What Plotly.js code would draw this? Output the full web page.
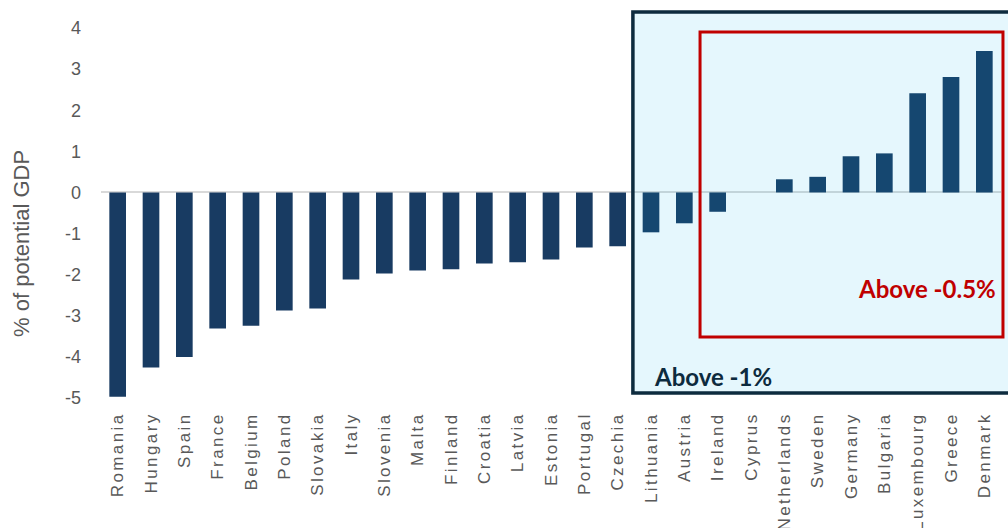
<!DOCTYPE html>
<html>
<head>
<meta charset="utf-8">
<script src="https://cdn.plot.ly/plotly-3.0.1.min.js"></script>
<style>
html,body{margin:0;padding:0;background:#fff;}
#chart{width:1008px;height:528px;}
#chart .xtick text{letter-spacing:2.4px;}
</style>
</head>
<body>
<div id="chart"></div>
<script>
const countries = ["Romania","Hungary","Spain","France","Belgium","Poland","Slovakia","Italy","Slovenia","Malta","Finland","Croatia","Latvia","Estonia","Portugal","Czechia","Lithuania","Austria","Ireland","Cyprus","Netherlands","Sweden","Germany","Bulgaria","Luxembourg","Greece","Denmark"];
const balance = [-4.97,-4.26,-4.0,-3.31,-3.24,-2.87,-2.82,-2.12,-1.97,-1.9,-1.87,-1.73,-1.7,-1.63,-1.34,-1.31,-0.97,-0.75,-0.47,0.0,0.32,0.38,0.88,0.95,2.41,2.81,3.44];
const yTicks = [4,3,2,1,0,-1,-2,-3,-4,-5];
const yTitle = "% of potential GDP";
const labelWide = "Above -1%";
const labelNarrow = "Above -0.5%";

const trace = {
  type: "bar",
  x: countries,
  y: balance,
  marker: {color: "#183B62"},
  width: 0.5,
  hoverinfo: "x+y"
};

const layout = {
  width: 1008, height: 528,
  margin: {l: 101, r: 7, t: 28, b: 130},
  paper_bgcolor: "#ffffff",
  plot_bgcolor: "rgba(0,0,0,0)",
  showlegend: false,
  font: {family: "Liberation Sans, Arial, sans-serif", color: "#595959"},
  xaxis: {
    type: "category",
    tickangle: -90,
    tickfont: {size: 17, color: "#595959"},
    showgrid: false, showline: false, zeroline: false,
    ticks: "", ticklabelstandoff: 10,
    fixedrange: true
  },
  yaxis: {
    range: [-5, 4],
    tickvals: yTicks,
    ticktext: yTicks.map(String),
    tickfont: {size: 18, color: "#595959"},
    showgrid: false, showline: false,
    zeroline: true, zerolinecolor: "#D9D9D9", zerolinewidth: 2,
    ticks: "", ticklabelstandoff: 19,
    fixedrange: true
  },
  shapes: [
    {type: "rect", xref: "paper", yref: "paper", x0: 0.591, x1: 1.02, y0: 0.0135, y1: 1.043,
     fillcolor: "rgba(0,176,240,0.1)", line: {width: 0}, layer: "above"},
    {type: "rect", xref: "paper", yref: "paper", x0: 0.591, x1: 1.012, y0: 0.0135, y1: 1.043,
     fillcolor: "rgba(0,0,0,0)", line: {color: "#0D2B3E", width: 3.5}, layer: "above"},
    {type: "rect", xref: "paper", yref: "paper", x0: 0.6656, x1: 1.0022, y0: 0.165, y1: 0.989,
     fillcolor: "rgba(0,0,0,0)", line: {color: "#C00000", width: 3}, layer: "above"}
  ],
  annotations: [
    {xref: "paper", yref: "paper", x: -0.0878, y: 0.419, xanchor: "center", yanchor: "middle",
     text: yTitle, textangle: -90, showarrow: false,
     font: {family: "Liberation Sans, Arial, sans-serif", size: 22, color: "#595959"}},
    {xref: "paper", yref: "paper", x: 0.612, y: 0.059, xanchor: "left", yanchor: "middle",
     text: "<b>" + labelWide + "</b>", showarrow: false,
     font: {family: "Lato, Open Sans, sans-serif", size: 24, color: "#0D2B3E"}},
    {xref: "paper", yref: "paper", x: 0.997, y: 0.297, xanchor: "right", yanchor: "middle",
     text: "<b>" + labelNarrow + "</b>", showarrow: false,
     font: {family: "Lato, Open Sans, sans-serif", size: 24, color: "#C00000"}}
  ]
};

Plotly.newPlot("chart", [trace], layout, {displayModeBar: false, staticPlot: true});
</script>
</body>
</html>
